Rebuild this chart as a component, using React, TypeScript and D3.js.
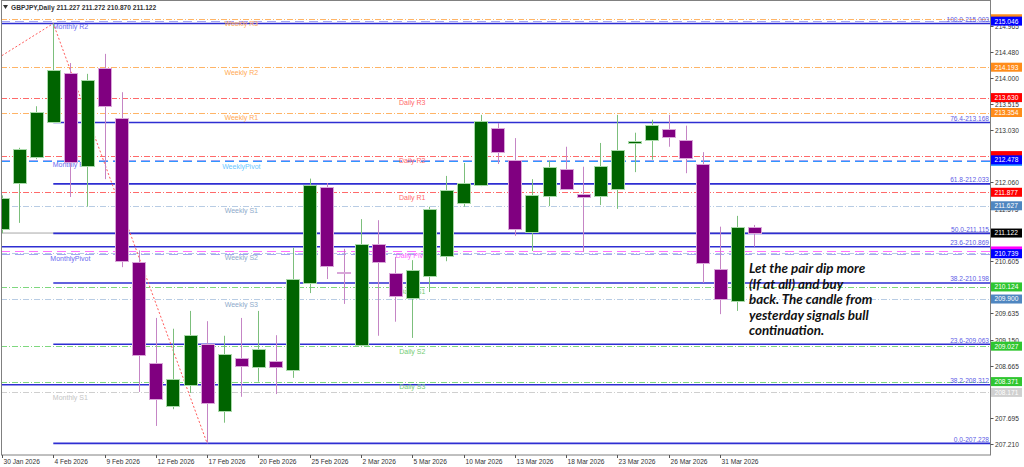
import React from 'react';
import * as d3 from 'd3';

const dates = [
  '30 Jan 2026', '2 Feb 2026', '3 Feb 2026', '4 Feb 2026', '5 Feb 2026', '6 Feb 2026',
  '9 Feb 2026', '10 Feb 2026', '11 Feb 2026', '12 Feb 2026', '13 Feb 2026', '16 Feb 2026',
  '17 Feb 2026', '18 Feb 2026', '19 Feb 2026', '20 Feb 2026', '23 Feb 2026', '24 Feb 2026',
  '25 Feb 2026', '26 Feb 2026', '27 Feb 2026', '2 Mar 2026', '3 Mar 2026', '4 Mar 2026',
  '5 Mar 2026', '6 Mar 2026', '9 Mar 2026', '10 Mar 2026', '11 Mar 2026', '12 Mar 2026',
  '13 Mar 2026', '16 Mar 2026', '17 Mar 2026', '18 Mar 2026', '19 Mar 2026', '20 Mar 2026',
  '23 Mar 2026', '24 Mar 2026', '25 Mar 2026', '26 Mar 2026', '27 Mar 2026', '30 Mar 2026',
  '31 Mar 2026', '1 Apr 2026', '2 Apr 2026',
];

const opens = [
  211.20, 212.05, 212.53, 213.18, 214.09, 212.36, 214.18, 213.25, 210.59, 208.72, 207.92, 208.31,
  209.07, 207.83, 208.81, 208.64, 208.75, 208.59, 210.20, 211.98, 210.40, 209.05, 210.92, 210.38,
  209.92, 210.33, 210.70, 211.68, 212.01, 213.07, 212.48, 211.14, 211.81, 212.31, 211.85, 211.81,
  211.94, 212.79, 212.85, 213.05, 212.85, 212.40, 210.46, 209.87, 211.227,
];
const highs = [
  211.82, 212.70, 213.47, 215.003, 214.27, 214.07, 214.44, 213.73, 210.80, 209.55, 209.35, 209.68,
  209.49, 209.22, 209.55, 209.68, 209.23, 210.85, 212.13, 212.05, 210.83, 211.38, 211.36, 210.68,
  210.62, 211.61, 212.18, 212.42, 213.31, 213.16, 212.88, 212.12, 212.46, 212.72, 212.35, 212.79,
  213.31, 212.98, 213.22, 213.31, 213.11, 212.62, 211.24, 211.44, 211.272,
];
const lows = [
  211.12, 211.31, 212.49, 213.17, 211.79, 211.61, 212.12, 210.49, 208.18, 207.55, 207.86, 208.16,
  207.228, 207.61, 208.09, 208.37, 208.14, 208.44, 210.01, 210.27, 209.81, 209.01, 209.22, 209.48,
  209.18, 210.03, 210.60, 211.61, 211.99, 212.40, 211.07, 210.79, 211.62, 211.92, 210.77, 211.64,
  211.57, 212.25, 212.48, 212.72, 212.23, 210.20, 209.62, 209.68, 210.870,
];
const closes = [
  211.77, 212.68, 213.37, 214.14, 212.44, 213.96, 213.47, 210.60, 208.87, 208.05, 208.42, 209.24,
  207.98, 208.88, 208.66, 208.98, 208.64, 210.27, 212.02, 210.51, 210.38, 210.92, 210.59, 209.96,
  210.44, 211.57, 211.92, 212.05, 213.20, 212.62, 211.20, 211.83, 212.35, 211.94, 211.79, 212.36,
  212.66, 212.82, 213.12, 212.90, 212.51, 210.57, 209.90, 211.227, 211.122,
];

// price scale labels that are not hidden behind level boxes
const priceTicks = [
  '214.965', '214.480', '214.000', '213.515', '213.030', '212.060', '211.575',
  '210.605', '209.635', '209.150', '208.665', '207.695', '207.210',
];

// pivot levels
const pivotNames = [
  'Weekly R3', 'Monthly R2', 'Weekly R2', 'Daily R3', 'Weekly R1', 'Daily R2', 'WeeklyPivot',
  'Monthly R1', 'Daily R1', 'Weekly S1', 'Daily Pivot', 'Weekly S2', 'MonthlyPivot', 'Daily S1',
  'Weekly S3', 'Daily S2', 'Daily S3', 'Monthly S1',
];
const pivotValues = [
  215.09, 215.046, 214.193, 213.630, 213.354, 212.556, 212.45, 212.478, 211.877, 211.627, 210.79,
  210.76, 210.739, 210.124, 209.900, 209.027, 208.371, 208.171,
];
// boxes mostly covered by a neighbour: drawn without text
const hiddenBoxes = ['Weekly R3', 'Daily R2', 'WeeklyPivot', 'Daily Pivot', 'Weekly S2'];

const fibLabels = [
  '100.0-215.003', '76.4-213.168', '61.8-212.033', '50.0-211.115', '23.6-210.869', '38.2-210.198',
  '23.6-209.063', '38.2-208.312', '0.0-207.228',
];
const fibValues = [215.003, 213.168, 212.033, 211.115, 210.869, 210.198, 209.063, 208.312, 207.228];
const fibStartIdx = [-3, 3, 3, 3, -3, 3, 3, -3, 3];

const zigzagIdx = [-1, 3, 12];
const zigzagPrice = [214.21, 215.003, 207.228];

const lastPrice = 211.122;
const noteLines = [
  'Let the pair dip more',
  '(If at all) and buy',
  'back. The candle from',
  'yesterday signals bull',
  'continuation.',
];

const FONT = '"Liberation Sans", Arial, sans-serif';

function styleFor(name: string) {
  if (name.startsWith('Daily')) {
    if (name.includes('Pivot')) return { line: '#ff70ff', text: '#ff60ff', dash: '9,5', box: '#ff00ff', cx: 24 };
    if (name.includes('R')) return { line: '#ff6a6a', text: '#ff6a6a', dash: '6,2,1,2', box: '#ff0000', cx: 24 };
    return { line: '#7ed87e', text: '#72cc72', dash: '6,2,1,2', box: '#2fc62f', cx: 24 };
  }
  if (name.startsWith('Weekly')) {
    if (name.includes('Pivot')) return { line: '#2f96ff', text: '#6cc8ff', dash: '9,5', box: '#1e90ff', cx: 14 };
    if (name.includes('R')) return { line: '#ffb466', text: '#ffaa55', dash: '6,2,1,2', box: '#ff8c1a', cx: 14 };
    return { line: '#b8cce4', text: '#8eaacb', dash: '6,2,1,2', box: '#4f86c0', cx: 14 };
  }
  if (name.includes('S1')) return { line: '#cfcfcf', text: '#c4c4c4', dash: '6,2,1,2', box: '#d0d0d0', cx: 4 };
  return { line: '#a4a4f2', text: '#6a6af0', dash: '9,5', box: '#0000ff', cx: 4 };
}

const App: React.FC = () => {
  const width = 1024;
  const height = 467;
  const left = 1;
  const right = 990;
  const top = 1;
  const bottom = 455;

  const x = d3.scaleLinear().domain([0, 42]).range([2, 720]);
  const y = d3.scaleLinear().domain([207.21, 214.48]).range([444.3, 51.7]);

  const zig = d3.line<number>()
    .x((_, i) => x(zigzagIdx[i]))
    .y((p) => y(p))(zigzagPrice);

  const bodyW = 13;

  return (
    <svg width={width} height={height} style={{ position: 'absolute', left: 0, top: 0, background: '#fff' }}
      fontFamily={FONT}>
      <defs>
        <clipPath id="plot">
          <rect x={left} y={top} width={right - left} height={bottom - top} />
        </clipPath>
      </defs>
      <rect x={0} y={0} width={width} height={height} fill="#fff" />

      <g clipPath="url(#plot)">
        {/* current price line */}
        <line x1={left} x2={right} y1={y(lastPrice)} y2={y(lastPrice)} stroke="#a8a8a8" strokeWidth={1} />

        {/* pivot lines */}
        {pivotNames.map((n, i) => {
          const s = styleFor(n);
          const yy = Math.round(y(pivotValues[i])) + 0.5;
          return (
            <line key={n} x1={left} x2={right} y1={yy} y2={yy} stroke={s.line} strokeWidth={1}
              strokeDasharray={s.dash} />
          );
        })}

        {/* fibonacci levels */}
        {fibValues.map((v, i) => {
          const yy = y(v);
          return (
            <line key={'f' + i} x1={x(fibStartIdx[i])} x2={right} y1={yy} y2={yy}
              stroke="#2e2ed2" strokeWidth={1.6} />
          );
        })}

        {/* pivot labels */}
        {pivotNames.map((n, i) => {
          const s = styleFor(n);
          return (
            <text key={'t' + n} x={x(s.cx)} y={y(pivotValues[i]) + 7.5} textAnchor="middle" fontSize={7}
              fill={s.text}>{n}</text>
          );
        })}

        {/* zigzag */}
        <path d={zig || ''} fill="none" stroke="#ff5a5a" strokeWidth={1} strokeDasharray="2,2" />

        {/* candles */}
        {opens.map((o, i) => {
          const c = closes[i];
          const up = c >= o;
          const cx = Math.round(x(i)) + 0.5;
          const yTop = Math.round(y(Math.max(o, c)));
          const yBot = Math.round(y(Math.min(o, c)));
          const bh = Math.max(1, yBot - yTop);
          return (
            <g key={'c' + i}>
              <line x1={cx} x2={cx} y1={y(highs[i])} y2={y(lows[i])}
                stroke={up ? '#7cbf7c' : '#c585c5'} strokeWidth={1} />
              <rect x={Math.round(x(i) - bodyW / 2) + 0.5} y={yTop + 0.5} width={bodyW} height={bh}
                fill={up ? '#006400' : '#800080'} stroke={up ? '#a9d9a9' : '#d9a6d9'} strokeWidth={1} />
            </g>
          );
        })}

        {/* fib labels */}
        {fibLabels.map((l, i) => (
          <text key={'fl' + i} x={right - 1} y={y(fibValues[i]) - 1.5} textAnchor="end" fontSize={6.6}
            fill="#5c5ce6">{l}</text>
        ))}
      </g>

      {/* frame */}
      <rect x={left + 0.5} y={top - 0.5} width={right - left} height={bottom - top + 0.5} fill="none"
        stroke="#808080" strokeWidth={1} />

      {/* header */}
      <path d="M3,5 L8,5 L5.5,9 Z" fill="#333" />
      <text x={11} y={10} fontSize={6.6} fill="#333" fontWeight="bold">
        GBPJPY,Daily  211.227 211.272 210.870 211.122
      </text>

      {/* right price axis */}
      {priceTicks.map((t) => {
        const yy = Math.round(y(+t)) + 0.5;
        return (
          <g key={'pt' + t}>
            <line x1={right + 0.5} x2={right + 3.5} y1={yy} y2={yy} stroke="#555" />
            <text x={right + 5} y={yy + 2.4} fontSize={6.6} fill="#333">{t}</text>
          </g>
        );
      })}

      {/* price boxes */}
      {pivotNames.map((n, i) => {
        const s = styleFor(n);
        if (n === 'Weekly S2') return null;
        const yy = y(pivotValues[i]);
        const hidden = hiddenBoxes.includes(n);
        return (
          <g key={'pb' + n}>
            <rect x={right + 1} y={yy - 4.5} width={31} height={9} fill={s.box} />
            {!hidden && (
              <text x={right + 4.5} y={yy + 2.4} fontSize={6.6} fill="#fff">{pivotValues[i].toFixed(3)}</text>
            )}
          </g>
        );
      })}
      <g>
        <rect x={right + 1} y={y(lastPrice) - 4.5} width={31} height={9} fill="#000" />
        <text x={right + 4.5} y={y(lastPrice) + 2.4} fontSize={6.6} fill="#fff">{lastPrice.toFixed(3)}</text>
      </g>

      {/* time axis */}
      {dates.map((d, i) => {
        if (i % 3 !== 0) return null;
        const xx = Math.round(x(i)) + 0.5;
        return (
          <g key={'dt' + i}>
            <line x1={xx} x2={xx} y1={bottom} y2={bottom + 3} stroke="#555" />
            <text x={xx + 1} y={bottom + 8.5} fontSize={6.6} fill="#333">{d}</text>
          </g>
        );
      })}

      {/* annotation */}
      <text x={749} y={273} fontFamily="Lato, 'Open Sans', sans-serif" fontSize={13.4} fontWeight="bold"
        fontStyle="italic" fill="#111">
        {noteLines.map((l, i) => (
          <tspan key={i} x={749} y={273 + i * 15.6}>{l}</tspan>
        ))}
      </text>
    </svg>
  );
};

export default App;
